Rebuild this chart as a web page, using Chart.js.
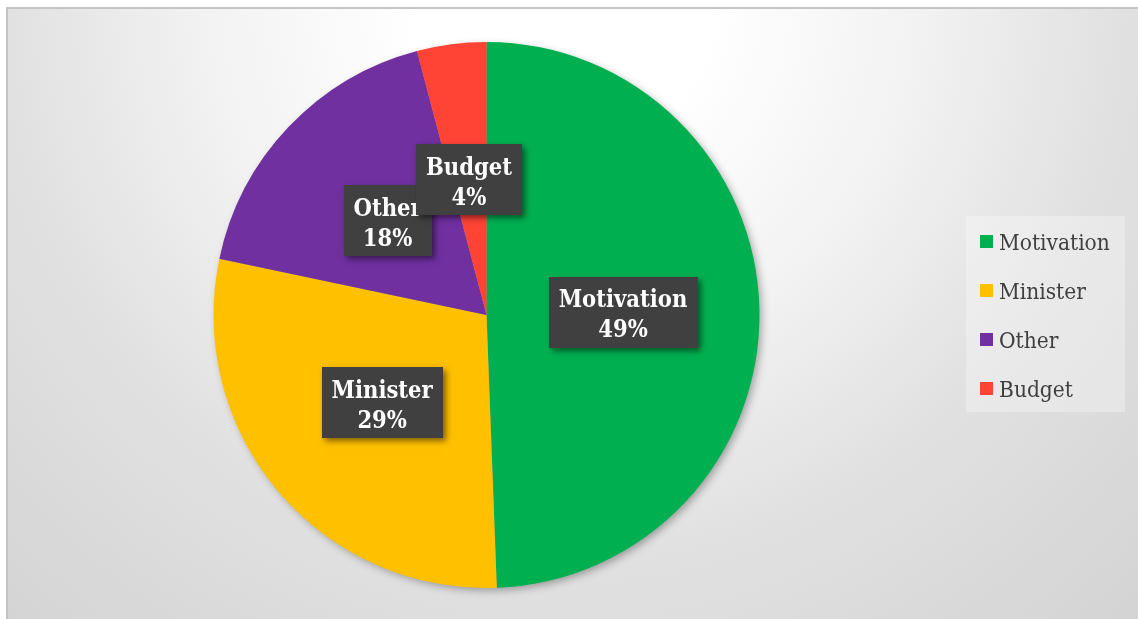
<!DOCTYPE html>
<html>
<head>
<meta charset="utf-8">
<script src="https://cdn.jsdelivr.net/npm/chart.js@4.4.1/dist/chart.umd.min.js"></script>
<style>
  html, body { margin: 0; padding: 0; background: #ffffff; }
  #wrap { position: relative; width: 1138px; height: 619px; overflow: hidden; }
  #frame {
    position: absolute; left: 6px; top: 7px; width: 1140px; height: 620px;
    border-left: 2px solid #c4c4c4; border-top: 2px solid #c4c4c4;
    background: radial-gradient(circle 830px at 554px -7px, #ffffff 0%, #ffffff 18%, #f2f2f2 43%, #e1e1e1 67%, #d4d4d4 100%);
  }
  #c { position: absolute; left: 0; top: 0; }
</style>
</head>
<body>
<div id="wrap">
  <div id="frame"></div>
  <canvas id="c" width="1138" height="619"></canvas>
</div>
<script>
const categories = ["Motivation", "Minister", "Other", "Budget"];
const values = [49.4, 28.9, 17.6, 4.1];
const colors = ["#00b050", "#ffc000", "#7030a0", "#ff4436"];

const pieShadow = {
  id: 'pieShadow',
  beforeDatasetsDraw(chart) {
    const arc = chart.getDatasetMeta(0).data[0];
    if (!arc) return;
    const ctx = chart.ctx;
    ctx.save();
    ctx.shadowColor = 'rgba(0,0,0,0.35)';
    ctx.shadowBlur = 8;
    ctx.shadowOffsetX = 3;
    ctx.shadowOffsetY = 3;
    ctx.fillStyle = '#999';
    ctx.beginPath();
    ctx.arc(arc.x, arc.y, arc.outerRadius - 1, 0, Math.PI * 2);
    ctx.fill();
    ctx.restore();
  }
};

const boxLabels = {
  id: 'boxLabels',
  afterDatasetsDraw(chart) {
    const ctx = chart.ctx;
    const meta = chart.getDatasetMeta(0);
    const data = chart.data.datasets[0].data;
    const total = data.reduce((a, b) => a + b, 0);
    ctx.save();
    ctx.font = 'bold 23.5px "DejaVu Serif Condensed", "DejaVu Serif", serif';
    meta.data.forEach((arc, i) => {
      const p = arc.tooltipPosition();
      const l1 = chart.data.labels[i];
      const l2 = Math.round(data[i] / total * 100) + '%';
      const w = Math.max(ctx.measureText(l1).width, ctx.measureText(l2).width) + 20;
      const h = 71;
      ctx.save();
      ctx.shadowColor = 'rgba(0,0,0,0.5)';
      ctx.shadowBlur = 6;
      ctx.shadowOffsetX = 3;
      ctx.shadowOffsetY = 3;
      ctx.fillStyle = '#404040';
      ctx.fillRect(Math.round(p.x - w / 2), Math.round(p.y - h / 2), Math.round(w), h);
      ctx.restore();
      ctx.fillStyle = '#ffffff';
      ctx.textAlign = 'center';
      ctx.textBaseline = 'alphabetic';
      ctx.fillText(l1, p.x, p.y - 5);
      ctx.fillText(l2, p.x, p.y + 25);
    });
    ctx.restore();
  }
};

const sideLegend = {
  id: 'sideLegend',
  afterDraw(chart) {
    const ctx = chart.ctx;
    ctx.save();
    ctx.fillStyle = 'rgba(255,255,255,0.3)';
    ctx.fillRect(966, 216, 159, 196);
    ctx.font = '22.5px "DejaVu Serif Condensed", "DejaVu Serif", serif';
    ctx.textBaseline = 'alphabetic';
    ctx.textAlign = 'left';
    chart.data.labels.forEach((lab, i) => {
      const top = 235 + 49 * i;
      ctx.fillStyle = chart.data.datasets[0].backgroundColor[i];
      ctx.fillRect(980, top, 13, 13);
      ctx.fillStyle = '#404040';
      ctx.fillText(lab, 999, top + 15);
    });
    ctx.restore();
  }
};

new Chart(document.getElementById('c'), {
  type: 'pie',
  data: {
    labels: categories,
    datasets: [{
      data: values,
      backgroundColor: colors,
      borderWidth: 0
    }]
  },
  options: {
    responsive: false,
    animation: false,
    layout: { padding: { left: 213, top: 42, right: 378, bottom: 31 } },
    plugins: {
      legend: { display: false },
      tooltip: { enabled: false }
    }
  },
  plugins: [pieShadow, boxLabels, sideLegend]
});
</script>
</body>
</html>
